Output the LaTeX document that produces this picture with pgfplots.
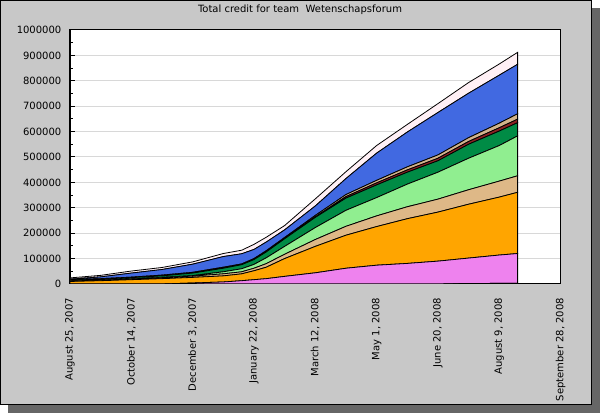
\documentclass[border=0pt]{standalone}
\usepackage{pgfplots}
\pgfplotsset{compat=1.18}
\usepackage{pgfplotstable}
\usepackage{fontspec}
\setmainfont{DejaVu Sans}
\definecolor{framegray}{HTML}{C8C8C8}
\definecolor{shadowgray}{HTML}{666666}
\definecolor{gridgray}{HTML}{D8D8D8}
\definecolor{cviolet}{HTML}{EE82EE}
\definecolor{corange}{HTML}{FFA500}
\definecolor{ctan}{HTML}{DEB887}
\definecolor{clgreen}{HTML}{90EE90}
\definecolor{cdgreen}{HTML}{008B45}
\definecolor{cbrown}{HTML}{8B2323}
\definecolor{ctanb}{HTML}{D2B48C}
\definecolor{cblue}{HTML}{4169E1}
\definecolor{cpink}{HTML}{FFF0F5}

\pgfplotstableread{
d   blk  vio     ora     tan    lgr     dgr    brn    tnb    blu     pnk
0   0    0       10000   2000   0       3000   0      2000   2000    5000
25  0    0       13000   2000   0       4000   0      2000   7000    6000
50  0    0       17000   3000   0       5000   0      2000   16000   8000
75  0    0       21000   4000   1000    6000   0      3000   22000   8000
100 0    4000    22000   5000   2000    10000  0      3000   32000   9000
125 0    8000    24000   8000   8000    14000  0      4000   42000   12000
140 0    13000   27000   8000   12000   16000  0      3000   40000   14000
150 0    17000   35000   10000  15000   19000  0      4000   36000   20000
160 0    21000   45000   14000  23000   23000  0      5000   34000   19000
175 0    30000   70000   17000  31000   30000  0      5000   30000   17000
200 0    44000   104000  27000  47000   40000  2000   6000   37000   28000
225 0    62000   130000  35000  63000   48000  6000   8000   63000   27000
250 0    74000   152000  42000  72000   50000  8000   10000  107000  30000
275 0    81000   176000  47000  89000   47000  9000   12000  137000  30000
300 0    90000   193000  51000  106000  45000  10000  13000  167000  35000
325 2000 100000  212000  57000  124000  55000  11000  15000  175000  42000
350 2500 111500  228000  63000  140000  57000  13000  18000  189000  44000
365 3000 117000  241000  65000  157000  52000  14000  21000  195000  47000
}\credits

\begin{document}
\begin{tikzpicture}
\useasboundingbox (0,0) rectangle (450pt,309.75pt);
\fill[shadowgray] (6pt,0pt) rectangle (450pt,303.75pt);
\filldraw[fill=framegray, draw=black, line width=0.75pt] (0.375pt,6.375pt) rectangle (443.625pt,309.375pt);
\node[font=\fontsize{7.5}{9}\selectfont] at (225pt,302.25pt) {Total credit for team\ \ Wetenschapsforum};
\begin{axis}[
  scale only axis, width=367.9pt, height=190.5pt,
  at={(52.5pt,96.75pt)}, anchor=south west,
  xmin=0, xmax=400, ymin=0, ymax=1000000,
  stack plots=y,
  scaled y ticks=false,
  axis background/.style={fill=white},
  axis line style={black, line width=0.75pt},
  xtick={0,50,...,400},
  xticklabels={{August 25, 2007},{October 14, 2007},{December 3, 2007},{January 22, 2008},{March 12, 2008},{May 1, 2008},{June 20, 2008},{August 9, 2008},{September 28, 2008}},
  ytick={0,100000,200000,300000,400000,500000,600000,700000,800000,900000,1000000},
  yticklabels={0,100000,200000,300000,400000,500000,600000,700000,800000,900000,1000000},
  minor ytick={50000,150000,...,950000},
  tick align=inside, tick pos=left,
  major tick length=4pt, minor tick length=2.3pt,
  tick style={black, line width=0.75pt},
  ymajorgrids, grid style={gridgray, line width=0.75pt},
  ticklabel style={font=\fontsize{7.5}{9}\selectfont},
  yticklabel shift=3pt,
  xticklabel style={rotate=90, anchor=east},
  xticklabel shift=7pt,
  every axis plot/.append style={line width=0.6pt, draw=black, mark=none},
]
\addplot[fill=black] table[x=d,y=blk]{\credits} \closedcycle;
\addplot[fill=cviolet] table[x=d,y=vio]{\credits} \closedcycle;
\addplot[fill=corange] table[x=d,y=ora]{\credits} \closedcycle;
\addplot[fill=ctan] table[x=d,y=tan]{\credits} \closedcycle;
\addplot[fill=clgreen] table[x=d,y=lgr]{\credits} \closedcycle;
\addplot[fill=cdgreen] table[x=d,y=dgr]{\credits} \closedcycle;
\addplot[fill=cbrown] table[x=d,y=brn]{\credits} \closedcycle;
\addplot[fill=ctanb] table[x=d,y=tnb]{\credits} \closedcycle;
\addplot[fill=cblue] table[x=d,y=blu]{\credits} \closedcycle;
\addplot[fill=cpink] table[x=d,y=pnk]{\credits} \closedcycle;
\end{axis}
\end{tikzpicture}
\end{document}
